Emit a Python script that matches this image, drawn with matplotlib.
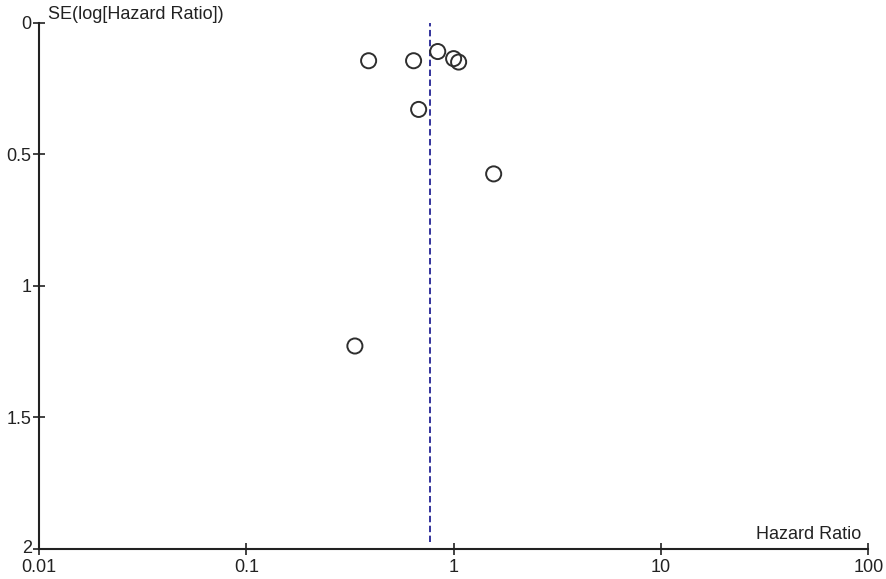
import matplotlib.pyplot as plt
import matplotlib.ticker as mticker
import matplotlib.transforms as mtransforms

plt.rcParams['font.family'] = ['Liberation Sans', 'DejaVu Sans']

# Study estimates
hazard_ratio = [0.389, 0.641, 0.838, 1.0, 1.057, 0.678, 1.56, 0.334]
se_log_hr = [0.145, 0.145, 0.110, 0.137, 0.150, 0.330, 0.575, 1.229]
pooled_hr = 0.766

x_ticks = [0.01, 0.1, 1, 10, 100]
x_tick_labels = ['0.01', '0.1', '1', '10', '100']
y_ticks = [0, 0.5, 1, 1.5, 2]
y_tick_labels = ['0', '0.5', '1', '1.5', '2']

fig = plt.figure(figsize=(8.86, 5.79), dpi=100)
ax = fig.add_axes([0.044, 0.052, 0.936, 0.909])

ax.plot([pooled_hr, pooled_hr], [-0.01, 1.975], color='#33339c', linestyle=(0, (3.3, 1.8)),
        linewidth=1.4, zorder=1)
ax.scatter(hazard_ratio, se_log_hr, s=118, facecolors='none', edgecolors='#2e2e2e',
           linewidths=1.4, zorder=2)

ax.set_xscale('log')
ax.set_xlim(0.01, 100)
ax.set_ylim(2, 0)
ax.xaxis.set_major_locator(mticker.FixedLocator(x_ticks))
ax.xaxis.set_minor_locator(mticker.NullLocator())
ax.set_xticklabels(x_tick_labels)
ax.set_yticks(y_ticks)
ax.set_yticklabels(y_tick_labels)

for side in ['top', 'right']:
    ax.spines[side].set_visible(False)
for side in ['left', 'bottom']:
    ax.spines[side].set_linewidth(1.5)
    ax.spines[side].set_color('#222222')

ax.tick_params(axis='both', direction='inout', length=8.5, width=1.2, colors='#222222',
               labelsize=13, labelcolor='#222222')
ax.tick_params(axis='x', pad=3)
ax.tick_params(axis='y', pad=1)

# nudge the bottom y label up a little so it does not run into "0.01"
last = ax.get_yticklabels()[-1]
last.set_transform(last.get_transform() + mtransforms.ScaledTranslation(0, 2 / 72, fig.dpi_scale_trans))

ax.text(0.011, 0.0, 'SE(log[Hazard Ratio])', fontsize=13, color='#222222',
        ha='left', va='bottom', transform=ax.transData)
ax.text(0.992, 0.012, 'Hazard Ratio', fontsize=13, color='#222222',
        ha='right', va='bottom', transform=ax.transAxes)

fig.savefig('out.png', dpi=100)
